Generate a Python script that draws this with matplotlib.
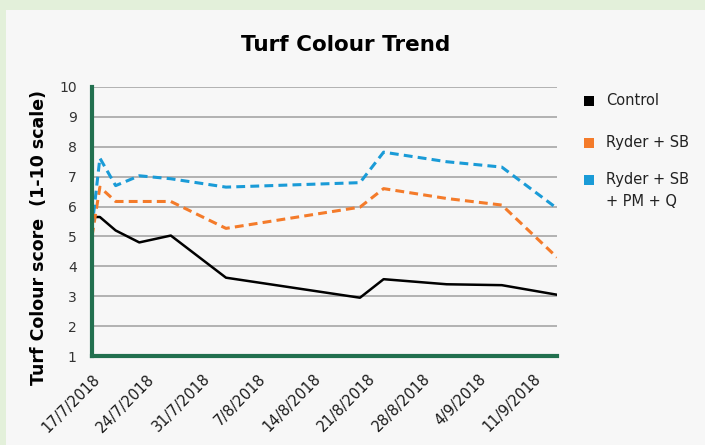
import datetime as dt
import matplotlib
matplotlib.use("Agg")
import matplotlib.pyplot as plt
from matplotlib.patches import Rectangle

# data
dates = [dt.date(2018, 7, 17), dt.date(2018, 7, 18), dt.date(2018, 7, 20),
         dt.date(2018, 7, 23), dt.date(2018, 7, 27), dt.date(2018, 8, 3),
         dt.date(2018, 8, 20), dt.date(2018, 8, 23), dt.date(2018, 8, 31),
         dt.date(2018, 9, 7), dt.date(2018, 9, 14)]
control = [5.65, 5.65, 5.2, 4.8, 5.03, 3.62, 2.95, 3.57, 3.4, 3.37, 3.05]
ryder_sb = [5.0, 6.65, 6.17, 6.17, 6.17, 5.27, 5.98, 6.6, 6.27, 6.05, 4.3]
ryder_sb_pm_q = [5.3, 7.62, 6.7, 7.03, 6.93, 6.65, 6.8, 7.82, 7.5, 7.32, 5.94]

series_names = ["Control", "Ryder + SB", "Ryder + SB\n+ PM + Q"]
series_colors = ["#000000", "#f47b2a", "#1a9bd7"]

tick_dates = [dt.date(2018, 7, 17) + dt.timedelta(days=7 * i) for i in range(9)]
tick_labels = ["17/7/2018", "24/7/2018", "31/7/2018", "7/8/2018", "14/8/2018",
               "21/8/2018", "28/8/2018", "4/9/2018", "11/9/2018"]

fig = plt.figure(figsize=(7.05, 4.45), dpi=100)
fig.patch.set_facecolor("#e3f0da")
# inner light panel
fig.patches.append(Rectangle((6 / 705, 0), 1, 1 - 10 / 445, transform=fig.transFigure,
                             facecolor="#f7f7f7", edgecolor="none", zorder=-5))

ax = fig.add_axes([92 / 705, 89 / 445, 465 / 705, 269 / 445])
ax.set_facecolor("none")
ax.set_zorder(2)

ax.plot(dates, control, color=series_colors[0], lw=1.8, zorder=3)
ax.plot(dates, ryder_sb, color=series_colors[1], lw=2.2, dashes=(2.9, 1.7), zorder=3)
ax.plot(dates, ryder_sb_pm_q, color=series_colors[2], lw=2.2, dashes=(2.9, 1.7), zorder=3)

ax.set_ylim(1, 10)
ax.set_yticks(range(1, 11))
ax.set_xlim(dates[0], dates[-1])
ax.set_xticks(tick_dates)
ax.set_xticklabels(tick_labels, rotation=45, ha="right", va="top",
                   rotation_mode="anchor", fontsize=10.5, color="#1a1a1a")
ax.tick_params(axis="x", length=0, pad=11)
ax.tick_params(axis="y", length=0, pad=11, labelsize=10, labelcolor="#333333")

ax.grid(axis="y", color="#a6a6a6", lw=1.2, zorder=1)
for s in ["top", "right"]:
    ax.spines[s].set_visible(False)
for s in ["left", "bottom"]:
    ax.spines[s].set_color("#22704f")
    ax.spines[s].set_linewidth(3)
    ax.spines[s].set_zorder(4)

ax.set_ylabel("Turf Colour score  (1-10 scale)", fontsize=12.5, fontweight="bold")
ax.yaxis.set_label_coords(-0.094, 0.44)

fig.text(0.49, 1 - 45 / 445, "Turf Colour Trend", ha="center", va="center",
         fontsize=15.5, fontweight="bold")

# legend drawn by hand
leg_y = [101, 143, 180]
for name, col, y in zip(series_names, series_colors, leg_y):
    fig.patches.append(Rectangle((584 / 705, 1 - (y + 5) / 445), 10 / 705, 10 / 445,
                                 transform=fig.transFigure, facecolor=col,
                                 edgecolor="none"))
    fig.text(606 / 705, 1 - (y - 8) / 445, name, ha="left", va="top",
             fontsize=10.5, color="#222222", linespacing=1.6)

fig.savefig("out.png", dpi=100, facecolor=fig.get_facecolor())
